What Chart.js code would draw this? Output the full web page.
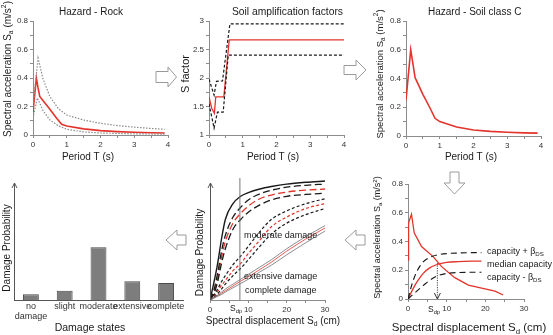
<!DOCTYPE html>
<html>
<head>
<meta charset="utf-8">
<script src="https://cdn.jsdelivr.net/npm/chart.js@4.4.1/dist/chart.umd.min.js"></script>
<style>
  html, body { margin: 0; padding: 0; background: #fff; }
  #wrap { position: relative; width: 553px; height: 335px; overflow: hidden; background: #fff; }
  canvas { position: absolute; }
  svg { position: absolute; left: 0; top: 0; }
</style>
</head>
<body>
<div id="wrap">
  <canvas id="rock"></canvas>
  <canvas id="amp"></canvas>
  <canvas id="soil"></canvas>
  <canvas id="states"></canvas>
  <canvas id="frag"></canvas>
  <canvas id="capacity"></canvas>
  <svg width="553" height="335">
    <g fill="#fff" stroke="#9a9a9a" stroke-width="1">
      <polygon points="156,71.5 168,71.5 168,67 176.5,77 168,87 168,82.5 156,82.5"/>
      <polygon points="344,65.5 356,65.5 356,60 366,70 356,80 356,74.5 344,74.5"/>
      <polygon points="450,172 459,172 459,183 465,183 454.5,194 444,183 450,183"/>
      <polygon points="345,240 356,230 356,235 365,235 365,245 356,245 356,250"/>
      <polygon points="166,240 177,230 177,235 186,235 186,245 177,245 177,250"/>
    </g>
  </svg>
</div>
<script>
// ---- data ----
// Hazard - Rock (period T in s, Sa in m/s2)
const rockT = [0, 0.1, 0.15, 0.2, 0.3, 0.5, 0.7, 0.85, 1, 1.5, 2, 2.5, 3, 3.5, 3.9];
const rockMedian = [0.16, 0.40, 0.33, 0.27, 0.24, 0.18, 0.117, 0.075, 0.063, 0.043, 0.031, 0.024, 0.019, 0.016, 0.014];
const rockUpperT = [0, 0.15, 0.3, 0.5, 0.75, 1, 1.5, 2, 2.5, 3, 3.5, 3.9];
const rockUpper = [0.2, 0.54, 0.39, 0.27, 0.185, 0.14, 0.105, 0.082, 0.066, 0.055, 0.046, 0.04];
const rockLowerT = [0, 0.13, 0.3, 0.5, 0.75, 1, 1.5, 2, 3, 3.9];
const rockLower = [0.12, 0.26, 0.17, 0.105, 0.065, 0.04, 0.022, 0.014, 0.008, 0.006];

// Soil amplification factors
const ampMedT = [0, 0.08, 0.16, 0.2, 0.44, 0.6, 4];
const ampMed = [1.67, 1.47, 1.38, 1.67, 1.67, 2.67, 2.67];
const ampUpT = [0, 0.15, 0.22, 0.4, 0.62, 4];
const ampUp = [1.98, 1.70, 1.94, 1.95, 2.95, 2.95];
const ampLowT = [0, 0.15, 0.25, 0.42, 0.57, 4];
const ampLow = [1.55, 1.12, 1.40, 1.40, 2.40, 2.40];

// Hazard - Soil class C
const soilT = [0, 0.14, 0.27, 0.3, 0.5, 0.7, 0.86, 1, 1.5, 2, 2.5, 3, 3.5, 3.9];
const soilSa = [0.25, 0.60, 0.405, 0.39, 0.29, 0.2, 0.123, 0.10, 0.063, 0.042, 0.032, 0.026, 0.022, 0.02];

// Damage states
const damageStates = [['no', 'damage'], 'slight', 'moderate', 'extensive', 'complete'];
const damageProb = [0.05, 0.08, 0.45, 0.16, 0.145];

// Fragility curves (Sd in cm)
const fragSd = [0, 1, 2, 3, 4, 6, 8, 10, 13, 16, 20, 25, 30];
const fragSlight = [0, 0.14, 0.30, 0.50, 0.66, 0.79, 0.85, 0.88, 0.91, 0.93, 0.95, 0.965, 0.975];
const fragModUp = [0, 0.08, 0.22, 0.40, 0.53, 0.68, 0.76, 0.82, 0.87, 0.90, 0.925, 0.94, 0.95];
const fragMod = [0, 0.06, 0.18, 0.35, 0.48, 0.63, 0.71, 0.77, 0.83, 0.86, 0.885, 0.90, 0.91];
const fragModLow = [0, 0.05, 0.15, 0.30, 0.42, 0.58, 0.66, 0.72, 0.78, 0.82, 0.85, 0.865, 0.875];
const fragExtUp = [0, 0.04, 0.09, 0.15, 0.20, 0.29, 0.36, 0.44, 0.56, 0.66, 0.73, 0.79, 0.83];
const fragExt = [0, 0.03, 0.07, 0.12, 0.16, 0.24, 0.30, 0.38, 0.49, 0.60, 0.68, 0.75, 0.79];
const fragExtLow = [0, 0.02, 0.05, 0.09, 0.13, 0.20, 0.26, 0.33, 0.44, 0.54, 0.63, 0.70, 0.75];
const fragComUp = [0, 0.02, 0.04, 0.065, 0.09, 0.13, 0.17, 0.21, 0.27, 0.33, 0.42, 0.52, 0.61];
const fragCom = [0, 0.018, 0.036, 0.055, 0.075, 0.115, 0.155, 0.19, 0.25, 0.31, 0.40, 0.50, 0.59];
const fragComLow = [0, 0.015, 0.03, 0.045, 0.065, 0.10, 0.135, 0.17, 0.23, 0.285, 0.37, 0.47, 0.565];
const sdpFrag = 7.8;

// Capacity spectrum
const demandSd = [0, 0.15, 0.9, 1.6, 3.5, 6.5, 8.7, 12, 15.6, 22.5, 24.6];
const demandSa = [0.27, 0.53, 0.59, 0.46, 0.365, 0.295, 0.225, 0.15, 0.097, 0.055, 0.028];
const capSd = [0, 1, 2, 3, 4, 5.5, 7.5, 10, 13, 16.5, 19];
const capMedian = [0, 0.055, 0.105, 0.145, 0.18, 0.215, 0.24, 0.255, 0.26, 0.263, 0.264];
const capUpper = [0, 0.1, 0.175, 0.225, 0.26, 0.288, 0.306, 0.316, 0.32, 0.322, 0.322];
const capLower = [0, 0.025, 0.048, 0.072, 0.095, 0.128, 0.16, 0.178, 0.184, 0.186, 0.186];
const sdp = 7.6;
const sdpSa = 0.25;

// ---- styling ----
const FONT = 'Arial, "Liberation Sans", sans-serif';
const RED = '#e3342b';
const AXIS = '#8c8c8c';
const TICK = '#333';
const TEXT = '#1a1a1a';
const BLACK = '#1a1a1a';

// draw text with sub/superscripts
function rich(ctx, x, y, parts, size, align, rot, color) {
  const segs = parts.map(p => typeof p === 'string' ? { t: p, k: 0 } : { t: p[0], k: p[1] === 'sub' ? 1 : 2 });
  let total = 0;
  segs.forEach(s => {
    s.size = s.k ? size * 0.68 : size;
    ctx.font = s.size + 'px ' + FONT;
    s.w = ctx.measureText(s.t).width;
    total += s.w;
  });
  ctx.save();
  ctx.translate(x, y);
  ctx.rotate(rot || 0);
  ctx.fillStyle = color || TEXT;
  ctx.textBaseline = 'middle';
  ctx.textAlign = 'left';
  let cx = align === 'left' ? 0 : align === 'right' ? -total : -total / 2;
  segs.forEach(s => {
    ctx.font = s.size + 'px ' + FONT;
    const dy = s.k === 1 ? size * 0.3 : s.k === 2 ? -size * 0.35 : 0;
    ctx.fillText(s.t, cx, dy);
    cx += s.w;
  });
  ctx.restore();
}

function notes(box, items) {
  return {
    id: 'notes',
    afterDraw(chart) {
      const ctx = chart.ctx;
      items.forEach(it => {
        let x, y;
        if (it.data) {
          x = chart.scales.x.getPixelForValue(it.data[0]);
          y = chart.scales.y.getPixelForValue(it.data[1]);
        } else {
          x = it.at[0] - box.x;
          y = it.at[1] - box.y;
        }
        rich(ctx, x, y, it.parts, it.size, it.align, it.rot, it.color);
      });
    }
  };
}

// y axis drawn as a line with an open arrow head
function yArrow(box, topY) {
  return {
    id: 'yarrow',
    afterDraw(chart) {
      const ctx = chart.ctx, a = chart.chartArea;
      const x = a.left + 0.5, top = topY - box.y;
      ctx.save();
      ctx.strokeStyle = '#555';
      ctx.lineWidth = 1;
      ctx.beginPath();
      ctx.moveTo(x, a.bottom);
      ctx.lineTo(x, top);
      ctx.moveTo(x - 2.5, top + 5);
      ctx.lineTo(x, top);
      ctx.lineTo(x + 2.5, top + 5);
      ctx.stroke();
      ctx.restore();
    }
  };
}

// category labels, top aligned under each bar
const catLabels = {
  id: 'catLabels',
  afterDraw(chart) {
    const ctx = chart.ctx, sx = chart.scales.x, top = chart.chartArea.bottom + 7;
    ctx.save();
    ctx.font = '9px ' + FONT;
    ctx.fillStyle = TICK;
    ctx.textAlign = 'center';
    ctx.textBaseline = 'middle';
    chart.data.labels.forEach((lab, i) => {
      const lines = Array.isArray(lab) ? lab : [lab];
      lines.forEach((t, j) => ctx.fillText(t, sx.getPixelForValue(i), top + j * 10));
    });
    ctx.restore();
  }
};

function line(xs, ys, color, width, dash, smooth) {
  return {
    data: xs.map((x, i) => ({ x: x, y: ys[i] })),
    borderColor: color,
    borderWidth: width,
    borderDash: dash || [],
    pointRadius: 0,
    fill: false,
    tension: 0,
    cubicInterpolationMode: smooth ? 'monotone' : 'default'
  };
}

const fmt = v => String(+v.toFixed(2));
const every = k => v => Number.isInteger(Math.round(v / k * 1000) / 1000) ? fmt(v) : '';

function axis(min, max, step, label) {
  return {
    type: 'linear', min: min, max: max,
    grid: { drawOnChartArea: false, drawTicks: true, tickLength: 3, color: AXIS, lineWidth: 1 },
    border: { color: AXIS, width: 1 },
    ticks: { stepSize: step, autoSkip: false, maxRotation: 0, color: TICK, font: { size: 8, family: FONT }, padding: 2, callback: label }
  };
}

function hiddenAxis(min, max) {
  return {
    type: 'linear', min: min, max: max,
    grid: { display: false }, border: { display: false }, ticks: { display: false }
  };
}

// box: canvas on the page, area: plot area on the page
function makeChart(id, box, area, type, data, scales, plugins) {
  const cv = document.getElementById(id);
  cv.width = box.w;
  cv.height = box.h;
  cv.style.left = box.x + 'px';
  cv.style.top = box.y + 'px';
  const yW = area.l - box.x, xH = box.y + box.h - area.b;
  scales.x.afterFit = s => { s.height = xH; };
  scales.y.afterFit = s => { s.width = yW; };
  return new Chart(cv, {
    type: type,
    data: data,
    options: {
      responsive: false,
      animation: false,
      events: [],
      layout: { padding: { left: 0, top: area.t - box.y, right: box.x + box.w - area.r, bottom: 0 } },
      plugins: { legend: { display: false }, tooltip: { enabled: false }, title: { display: false } },
      scales: scales
    },
    plugins: plugins
  });
}

// ---- 1. Hazard - Rock ----
const b1 = { x: 0, y: 0, w: 185, h: 165 };
makeChart('rock', b1, { l: 33, r: 168, t: 21, b: 135 }, 'line', {
  datasets: [
    line(rockUpperT, rockUpper, '#8a8a8a', 1.2, [1.5, 1.5]),
    line(rockLowerT, rockLower, '#8a8a8a', 1.2, [1.5, 1.5]),
    line(rockT, rockMedian, RED, 1.6)
  ]
}, { x: axis(0, 4, 0.5, every(1)), y: axis(0, 0.8, 0.1, every(0.2)) }, [
  notes(b1, [
    { at: [91, 12], parts: ['Hazard - Rock'], size: 10 },
    { at: [88, 157], parts: ['Period T (s)'], size: 10 },
    { at: [8, 69], parts: ['Spectral acceleration S', ['a', 'sub'], ' (m/s', ['2', 'sup'], ')'], size: 10, rot: -Math.PI / 2 }
  ])
]);

// ---- 2. Soil amplification factors ----
const b2 = { x: 178, y: 0, w: 192, h: 165 };
makeChart('amp', b2, { l: 209, r: 344, t: 21, b: 135 }, 'line', {
  datasets: [
    line(ampUpT, ampUp, BLACK, 1.2, [3, 2]),
    line(ampLowT, ampLow, BLACK, 1.2, [3, 2]),
    line(ampMedT, ampMed, RED, 1.3)
  ]
}, { x: axis(0, 4, 0.5, every(1)), y: axis(1, 3, 0.25, every(0.5)) }, [
  notes(b2, [
    { at: [343, 12], parts: ['Soil amplification factors'], size: 10.3, align: 'right' },
    { at: [273, 157], parts: ['Period T (s)'], size: 10 },
    { at: [186, 74], parts: ['S factor'], size: 11, rot: -Math.PI / 2 }
  ])
]);

// ---- 3. Hazard - Soil class C ----
const b3 = { x: 370, y: 0, w: 183, h: 165 };
makeChart('soil', b3, { l: 406, r: 541, t: 21, b: 136 }, 'line', {
  datasets: [line(soilT, soilSa, RED, 1.6)]
}, { x: axis(0, 4, 0.5, every(1)), y: axis(0, 0.8, 0.1, every(0.2)) }, [
  notes(b3, [
    { at: [474.7, 12], parts: ['Hazard - Soil class C'], size: 10 },
    { at: [471, 157], parts: ['Period T (s)'], size: 10 },
    { at: [380, 74], parts: ['Spectral acceleration S', ['a', 'sub'], ' (m/s', ['2', 'sup'], ')'], size: 9.5, rot: -Math.PI / 2 }
  ])
]);

// ---- 4. Damage states ----
const b4 = { x: 0, y: 165, w: 192, h: 170 };
makeChart('states', b4, { l: 14, r: 183, t: 183, b: 300 }, 'bar', {
  labels: damageStates,
  datasets: [{
    data: damageProb,
    backgroundColor: '#7d7d7d',
    borderColor: '#4a4a4a',
    borderWidth: 1,
    barPercentage: 0.47,
    categoryPercentage: 1
  }]
}, {
  x: {
    type: 'category',
    grid: { display: false },
    border: { color: '#555', width: 1 },
    ticks: { display: false }
  },
  y: hiddenAxis(0, 1)
}, [
  yArrow(b4, 183),
  catLabels,
  notes(b4, [
    { at: [90, 328], parts: ['Damage states'], size: 10.5 },
    { at: [7, 248], parts: ['Damage Probability'], size: 10, rot: -Math.PI / 2 }
  ])
]);

// ---- 5. Fragility curves ----
const b5 = { x: 185, y: 165, w: 185, h: 170 };
makeChart('frag', b5, { l: 210, r: 325, t: 178, b: 300 }, 'line', {
  datasets: [
    line([sdpFrag, sdpFrag], [0, 1], '#777', 1),
    line(fragSd, fragComUp, '#707070', 0.8, [], true),
    line(fragSd, fragComLow, '#707070', 0.8, [], true),
    line(fragSd, fragCom, RED, 0.8, [], true),
    line(fragSd, fragExtUp, BLACK, 1.2, [3, 2.2], true),
    line(fragSd, fragExtLow, BLACK, 1.2, [3, 2.2], true),
    line(fragSd, fragExt, RED, 1.2, [3, 2.2], true),
    line(fragSd, fragModUp, BLACK, 1.3, [7, 3.5], true),
    line(fragSd, fragModLow, BLACK, 1.3, [7, 3.5], true),
    line(fragSd, fragMod, RED, 1.3, [7, 3.5], true),
    line(fragSd, fragSlight, BLACK, 1.4, [], true)
  ]
}, {
  x: axis(0, 30, 5, every(10)),
  y: hiddenAxis(0, 1)
}, [
  yArrow(b5, 183),
  notes(b5, [
    { data: [8.9, 0.525], parts: ['moderate damage'], size: 9, align: 'left' },
    { data: [8.9, 0.19], parts: ['extensive damage'], size: 9, align: 'left' },
    { data: [9.1, 0.074], parts: ['complete damage'], size: 9, align: 'left' },
    { at: [236, 309], parts: ['S', ['dp', 'sub']], size: 8.5 },
    { at: [273, 321], parts: ['Spectral displacement S', ['d', 'sub'], ' (cm)'], size: 10 },
    { at: [200, 252.5], parts: ['Damage Probability'], size: 10, rot: -Math.PI / 2 }
  ])
]);

// ---- 6. Capacity spectrum ----
const b6 = { x: 370, y: 165, w: 183, h: 170 };
makeChart('capacity', b6, { l: 408, r: 524, t: 184, b: 299 }, 'line', {
  datasets: [
    line(capSd, capUpper, BLACK, 1.2, [6, 4], true),
    line(capSd, capLower, BLACK, 1.2, [6, 4], true),
    line(capSd, capMedian, RED, 1.3, [], true),
    line(demandSd, demandSa, RED, 1.3),
    line([sdp, sdp], [sdpSa, 0], '#444', 1, [1.2, 1.2])
  ]
}, { x: axis(0, 30, 5, every(10)), y: axis(0, 0.8, 0.1, every(0.2)) }, [
  {
    id: 'sdpArrow',
    afterDraw(chart) {
      const ctx = chart.ctx;
      const x = chart.scales.x.getPixelForValue(sdp), y = chart.scales.y.getPixelForValue(0);
      ctx.save();
      ctx.strokeStyle = '#333';
      ctx.lineWidth = 1;
      ctx.beginPath();
      ctx.moveTo(x - 3, y - 6);
      ctx.lineTo(x, y);
      ctx.lineTo(x + 3, y - 6);
      ctx.stroke();
      ctx.restore();
    }
  },
  notes(b6, [
    { data: [20.4, 0.33], parts: ['capacity + \u03b2', ['DS', 'sub']], size: 9, align: 'left' },
    { data: [20.4, 0.243], parts: ['median capacity'], size: 9, align: 'left' },
    { data: [20.4, 0.148], parts: ['capacity - \u03b2', ['DS', 'sub']], size: 9, align: 'left' },
    { at: [434, 310], parts: ['S', ['dp', 'sub']], size: 8.5 },
    { at: [469, 328], parts: ['Spectral displacement S', ['d', 'sub'], ' (cm)'], size: 11.5 },
    { at: [378, 237.5], parts: ['Spectral acceleration S', ['a', 'sub'], ' (m/s', ['2', 'sup'], ')'], size: 9, rot: -Math.PI / 2 }
  ])
]);
</script>
</body>
</html>
